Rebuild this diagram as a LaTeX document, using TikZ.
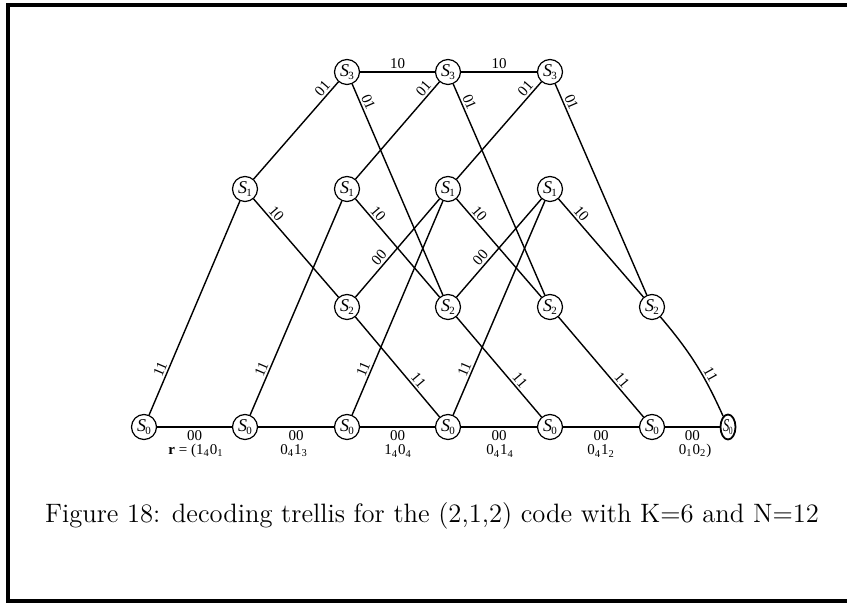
\documentclass[tikz,border=0pt]{standalone}
\usepackage{fontspec}
\usetikzlibrary{shapes.geometric}
\newfontfamily\tms{Liberation Serif}
% state label S_i with a small upright index
\newcommand\stt[1]{{\itshape S}\kern-0.04em\raisebox{-0.45ex}{\fontsize{5.5}{5.5}\selectfont #1}}
\begin{document}
\begin{tikzpicture}[x=0.5pt,y=-0.5pt,
  state/.style={circle,draw,line width=0.6pt,minimum size=12.5pt,inner sep=0pt,
    font=\tms\fontsize{9}{10}\selectfont},
  endstate/.style={ellipse,draw,line width=0.9pt,minimum width=7.5pt,minimum height=12.5pt,inner sep=0pt,
    font=\tms\fontsize{9}{10}\selectfont},
  wire/.style={line width=0.7pt},
  lab/.style={font=\tms\fontsize{7.5}{8}\selectfont,inner sep=1pt,sloped},
  rlab/.style={font=\tms\fontsize{7.5}{8}\selectfont,inner sep=0pt},
  frame/.style={line width=2pt},
]
\useasboundingbox (0,0) rectangle (847,603);
\coordinate (fa) at (847,5);
\coordinate (fb) at (7.5,5);
\coordinate (fc) at (7.5,601.5);
\coordinate (fd) at (847,601.5);
\draw[frame] (fa) -- (fb) -- (fc) -- (fd);

% states
\foreach \n/\x in {a/347,b/448,c/550}
  \node[state] (s3\n) at (\x,72) {\stt{3}};
\foreach \n/\x in {a/245,b/347,c/448,d/550}
  \node[state] (s1\n) at (\x,189) {\stt{1}};
\foreach \n/\x in {a/347,b/448,c/550,d/652}
  \node[state] (s2\n) at (\x,307) {\stt{2}};
\foreach \n/\x in {a/144,b/245,c/347,d/448,e/550,f/652}
  \node[state] (s0\n) at (\x,427) {\stt{0}};
\node[endstate] (s0g) at (728,427) {\scalebox{0.7}[1]{\stt{0}}};

% S0 -> S0
\foreach \p/\q in {a/b,b/c,c/d,d/e,e/f,f/g}
  \draw[wire] (s0\p) -- node[lab,below=0.5pt] {00} (s0\q);
% S0 -> S1
\foreach \p in {a,b,c,d}
  \draw[wire] (s0\p) -- node[lab,pos=0.2,above] {11} (s1\p);
% S1 -> S3
\foreach \p in {a,b,c}
  \draw[wire] (s1\p) -- node[lab,pos=0.88,above] {01} (s3\p);
% S1 -> S2
\foreach \p in {a,b,c,d}
  \draw[wire] (s1\p) -- node[lab,pos=0.2,above] {10} (s2\p);
% S3 -> S3
\foreach \p/\q in {a/b,b/c}
  \draw[wire] (s3\p) -- node[lab,above=0.5pt] {10} (s3\q);
% S3 -> S2
\foreach \p/\q in {a/b,b/c,c/d}
  \draw[wire] (s3\p) -- node[lab,pos=0.1,above] {01} (s2\q);
% S2 -> S1
\foreach \p/\q in {a/c,b/d}
  \draw[wire] (s2\p) -- node[lab,pos=0.35,above] {00} (s1\q);
% S2 -> S0
\foreach \p/\q in {a/d,b/e,c/f}
  \draw[wire] (s2\p) -- node[lab,pos=0.68,above] {11} (s0\q);
\draw[wire] (s2d) to[bend left=8] node[lab,pos=0.65,above] {11} (s0g);

% received sequence
\node[rlab] (r1) at (196,451) {\textbf{r} = (1\textsubscript{4}0\textsubscript{1}};
\node[rlab] (r2) at (294,451) {0\textsubscript{4}1\textsubscript{3}};
\node[rlab] (r3) at (398,451) {1\textsubscript{4}0\textsubscript{4}};
\node[rlab] (r4) at (500,451) {0\textsubscript{4}1\textsubscript{4}};
\node[rlab] (r5) at (601,451) {0\textsubscript{4}1\textsubscript{2}};
\node[rlab] (r6) at (695,451) {0\textsubscript{1}0\textsubscript{2})};

% caption
\node[font=\fontsize{13.3}{16}\selectfont,inner sep=0pt] (cap) at (432,516)
  {Figure 18: decoding trellis for the (2,1,2) code with K=6 and N=12};
\end{tikzpicture}
\end{document}
